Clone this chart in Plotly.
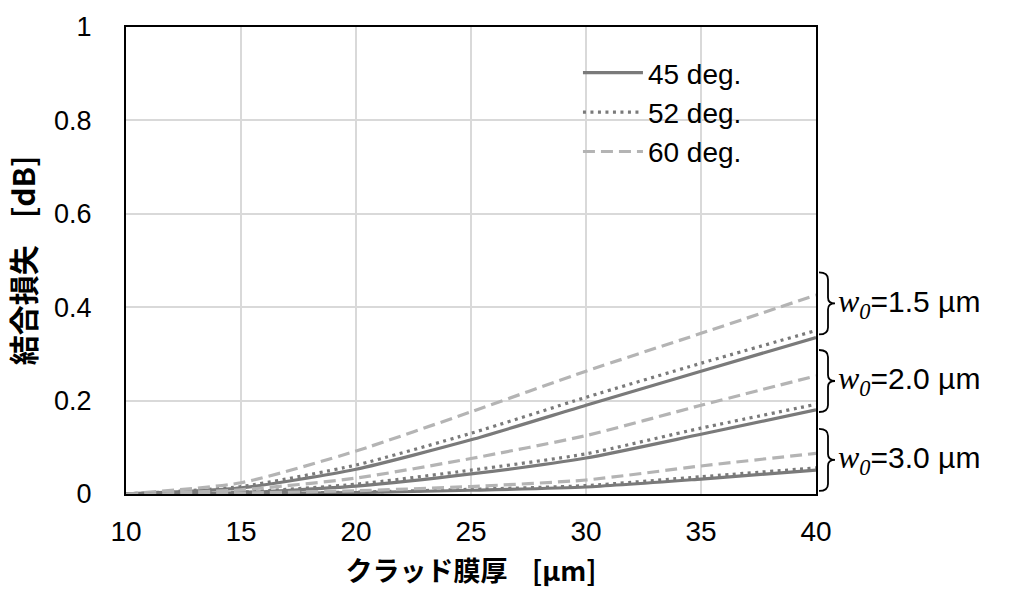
import plotly.graph_objects as go

# ---- data ----
x_thick = [10, 15, 20, 25, 30, 35, 40]

w15_45 = [0, 0.013, 0.053, 0.116, 0.190, 0.263, 0.335]
w15_52 = [0, 0.016, 0.062, 0.130, 0.207, 0.280, 0.350]
w15_60 = [0, 0.024, 0.092, 0.176, 0.263, 0.344, 0.426]

w20_45 = [0, 0.003, 0.017, 0.043, 0.077, 0.128, 0.180]
w20_52 = [0, 0.004, 0.021, 0.051, 0.086, 0.141, 0.192]
w20_60 = [0, 0.009, 0.034, 0.076, 0.125, 0.190, 0.253]

w30_45 = [0, 0.001, 0.003, 0.008, 0.015, 0.032, 0.051]
w30_52 = [0, 0.001, 0.004, 0.010, 0.018, 0.037, 0.056]
w30_60 = [0, 0.002, 0.007, 0.016, 0.030, 0.060, 0.087]

angle_names = ["45 deg.", "52 deg.", "60 deg."]
w0_labels = ["1.5", "2.0", "3.0"]
w0_centers = [0.408, 0.242, 0.073]

groups = [
    [w15_45, w15_52, w15_60],
    [w20_45, w20_52, w20_60],
    [w30_45, w30_52, w30_60],
]

styles = [
    dict(color="#7a7a7a", width=3.2, dash="solid"),
    dict(color="#7a7a7a", width=3.2, dash="3px,4.5px"),
    dict(color="#b4b4b4", width=3.2, dash="12px,6px"),
]

fig = go.Figure()
for gi, grp in enumerate(groups):
    for ai, ys in enumerate(grp):
        fig.add_trace(go.Scatter(
            x=x_thick, y=ys, mode="lines",
            line=dict(shape="spline", smoothing=0.6, **styles[ai]),
            name=angle_names[ai], legendgroup=angle_names[ai],
            showlegend=(gi == 0), hoverinfo="skip",
        ))

# braces and labels
brace = "M 3,31 Q 12,31 12,24 L 12,6 Q 12,0 19,0 Q 12,0 12,-6 L 12,-24 Q 12,-31 3,-31"
for lab, yc in zip(w0_labels, w0_centers):
    fig.add_shape(type="path", xref="paper", yref="y", xsizemode="pixel", ysizemode="pixel",
                  xanchor=1, yanchor=yc, path=brace, line=dict(color="black", width=1.8))
    fig.add_annotation(
        xref="paper", yref="y", x=1.029, y=yc, xanchor="left", yanchor="middle", showarrow=False,
        text=('<span style="font-family:\'Liberation Serif\',serif;font-size:32px"><i>w</i>'
              '<sub><i>0</i></sub></span>=' + lab + ' µm'),
        font=dict(family="Liberation Sans, Arial, sans-serif", size=30, color="black"),
    )

fig.update_layout(
    width=1011, height=594,
    margin=dict(l=126, r=195, t=27, b=100),
    paper_bgcolor="white", plot_bgcolor="white",
    font=dict(family="Liberation Sans, Arial, sans-serif", size=27, color="black"),
    showlegend=True,
    legend=dict(x=0.655, y=0.955, xanchor="left", yanchor="top",
                bgcolor="rgba(0,0,0,0)", font=dict(size=28),
                tracegroupgap=0, itemwidth=60),
    xaxis=dict(
        range=[10, 40], dtick=5, tick0=10,
        showgrid=True, gridcolor="#d9d9d9", gridwidth=1.5,
        showline=True, linecolor="black", linewidth=2, mirror=True,
        ticks="", ticklabelstandoff=11, zeroline=False,
        tickfont=dict(size=28),
        title=dict(text="クラッド膜厚\u00a0\u00a0\u00a0\u00a0[µm]", standoff=17,
                   font=dict(family="Noto Sans CJK JP", size=27, weight="bold")),
    ),
    yaxis=dict(
        range=[0, 1], dtick=0.2, tick0=0,
        showgrid=True, gridcolor="#d9d9d9", gridwidth=1.5,
        showline=True, linecolor="black", linewidth=2, mirror=True,
        ticks="", ticklabelstandoff=27, zeroline=False,
        tickfont=dict(size=27),
        title=dict(text="結合損失\u00a0\u00a0\u00a0\u00a0[dB]", standoff=10,
                   font=dict(family="Noto Sans CJK JP", size=30, weight="bold")),
    ),
)

fig.write_html("out.html")
